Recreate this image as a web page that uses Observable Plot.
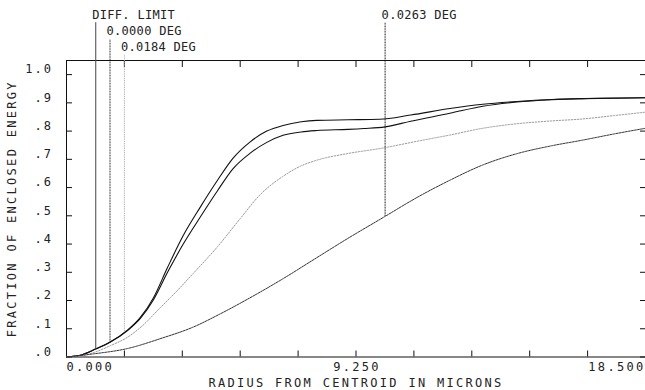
<!DOCTYPE html>
<html>
<head>
<meta charset="utf-8">
<script src="https://cdn.jsdelivr.net/npm/d3@7"></script>
<script src="https://cdn.jsdelivr.net/npm/@observablehq/plot@0.6"></script>
<style>
  body { margin: 0; background: #fff; }
  svg { font-family: "DejaVu Sans Mono", monospace; }
</style>
</head>
<body>
<div id="chart"></div>
<script>
// ---- data ----
const diffX = [0, 0.5, 0.93, 1.4, 1.95, 2.36, 2.78, 3.22, 3.73, 4.27, 4.82, 5.33, 5.87, 6.4, 6.92, 7.5, 8.0, 9.0, 10.0, 11.0, 12.25, 13.3, 14.39, 15.5, 16.5, 18.5];
const diffY = [0, 0.008, 0.028, 0.053, 0.095, 0.14, 0.21, 0.315, 0.43, 0.53, 0.625, 0.705, 0.762, 0.80, 0.82, 0.833, 0.838, 0.84, 0.842, 0.857, 0.88, 0.895, 0.905, 0.912, 0.915, 0.918];

const deg0X = [0, 0.5, 0.93, 1.4, 1.95, 2.36, 2.78, 3.22, 3.73, 4.27, 4.82, 5.33, 5.87, 6.4, 6.92, 7.5, 8.0, 9.0, 9.5, 10.18, 11.0, 12.25, 13.3, 14.39, 15.5, 16.5, 18.5];
const deg0Y = [0, 0.008, 0.028, 0.053, 0.094, 0.137, 0.203, 0.298, 0.40, 0.495, 0.588, 0.668, 0.722, 0.76, 0.785, 0.797, 0.802, 0.806, 0.809, 0.815, 0.835, 0.863, 0.888, 0.903, 0.911, 0.915, 0.918];

const deg184X = [0, 0.5, 0.93, 1.4, 1.95, 2.4, 3.0, 3.32, 4.05, 4.82, 5.55, 6.19, 6.92, 7.5, 8.0, 8.96, 10.11, 11.2, 12.25, 13.3, 14.39, 15.5, 16.49, 17.5, 18.5];
const deg184Y = [0, 0.005, 0.018, 0.04, 0.07, 0.108, 0.175, 0.21, 0.296, 0.39, 0.49, 0.575, 0.64, 0.677, 0.697, 0.72, 0.74, 0.764, 0.786, 0.81, 0.826, 0.836, 0.843, 0.855, 0.867];

const deg263X = [0, 0.86, 1.95, 3.0, 4.05, 4.9, 5.87, 6.9, 7.9, 8.96, 10.18, 11.2, 12.25, 13.3, 14.39, 15.5, 16.49, 17.5, 18.5];
const deg263Y = [0, 0.011, 0.03, 0.065, 0.106, 0.152, 0.21, 0.276, 0.345, 0.418, 0.498, 0.565, 0.626, 0.68, 0.72, 0.748, 0.768, 0.79, 0.81];

const markerLabels = ["DIFF. LIMIT", "0.0000 DEG", "0.0184 DEG", "0.0263 DEG"];
const markerX = [0.935, 1.39, 1.85, 10.18];
const markerBottom = [0.028, 0.053, 0.09, 0.498];
const markerTop = [1.184, 1.124, 1.068, 1.184];

const xTicks = [0, 1.85, 3.7, 5.55, 7.4, 9.25, 11.1, 12.95, 14.8, 16.65, 18.5];
const xLabelValues = [0, 9.25, 18.5];
const xLabelText = ["0.000", "9.250", "18.500"];
const yTicks = [0, 0.1, 0.2, 0.3, 0.4, 0.5, 0.6, 0.7, 0.8, 0.9, 1.0];
const yTickText = [".0", ".1", ".2", ".3", ".4", ".5", ".6", ".7", ".8", ".9", "1.0"];
const xTitle = "RADIUS FROM CENTROID IN MICRONS";
const yTitle = "FRACTION OF ENCLOSED ENERGY";
const xMax = 18.5;
const yTop = 1.05;

// ---- build tables ----
const toRows = (xs, ys) => xs.map((x, i) => ({x, y: ys[i]}));
const seriesStyles = [
  {rows: toRows(diffX, diffY), stroke: "#111", dash: null, w: 1.1},
  {rows: toRows(deg0X, deg0Y), stroke: "#111", dash: null, w: 1.1},
  {rows: toRows(deg184X, deg184Y), stroke: "#999", dash: "1.5,1.5", w: 1},
  {rows: toRows(deg263X, deg263Y), stroke: "#333", dash: "2,1", w: 1}
];
const markers = markerLabels.map((label, i) => ({label, x: markerX[i], y1: markerBottom[i], y2: markerTop[i]}));
const markerStyles = [
  {stroke: "#444", dash: null},
  {stroke: "#222", dash: "1,0.6"},
  {stroke: "#aaa", dash: "1,0.8"},
  {stroke: "#111", dash: "1,0.6"}
];
const xAnchors = ["start", "middle", "end"];
const xDx = [0, 1, 0];

const marks = [
  Plot.ruleY([0, yTop], {stroke: "#111", strokeWidth: 1}),
  Plot.ruleX([0], {stroke: "#111", strokeWidth: 1}),
  Plot.axisX({anchor: "bottom", ticks: xTicks, tickSize: -6, tickFormat: () => "", label: null}),
  Plot.axisX({anchor: "top", ticks: xTicks, tickSize: -6, tickFormat: () => "", label: null}),
  Plot.axisY({anchor: "left", ticks: yTicks, tickSize: -6, tickFormat: () => "", label: null}),
  Plot.axisY({anchor: "right", ticks: yTicks, tickSize: -6, tickFormat: () => "", label: null}),
  ...seriesStyles.map(s => Plot.line(s.rows, {x: "x", y: "y", curve: "monotone-x", stroke: s.stroke, strokeWidth: s.w, strokeDasharray: s.dash})),
  ...markers.map((m, i) => Plot.ruleX([m], {x: "x", y1: "y1", y2: "y2", stroke: markerStyles[i].stroke, strokeWidth: 1, strokeDasharray: markerStyles[i].dash})),
  Plot.text(markers, {x: "x", y: "y2", text: "label", textAnchor: "start", lineAnchor: "middle", dx: -3.5, dy: -8, fontSize: 12, fill: "#222"}),
  ...xLabelValues.map((v, i) => Plot.text([v], {x: d => d, frameAnchor: "bottom", text: () => xLabelText[i], textAnchor: xAnchors[i], lineAnchor: "middle", dx: xDx[i], dy: 10.5, fontSize: 12, fill: "#222"})),
  Plot.text(yTicks, {y: d => d, frameAnchor: "left", text: (d, i) => yTickText[i], textAnchor: "end", lineAnchor: "middle", dx: -13.5, dy: -5, fontSize: 12, fill: "#222"}),
  Plot.text([xTitle], {frameAnchor: "bottom", text: d => d, textAnchor: "middle", lineAnchor: "middle", dy: 26, fontSize: 12, fill: "#222"}),
  Plot.text([yTitle], {frameAnchor: "left", text: d => d, rotate: -90, textAnchor: "middle", lineAnchor: "middle", dx: -54, fontSize: 12, fill: "#222"})
];

const chart = Plot.plot({
  width: 645,
  height: 390,
  marginLeft: 66,
  marginRight: 0,
  marginTop: 60,
  marginBottom: 33.5,
  style: {fontFamily: "DejaVu Sans Mono", fontSize: "12px", color: "#111", background: "#fff", overflow: "visible"},
  x: {domain: [0, xMax]},
  y: {domain: [0, yTop]},
  marks
});

// letter spacing of the plotter-style lettering
chart.querySelectorAll("text").forEach(t => {
  const s = t.textContent;
  if (!s) return;
  let ls = 2.3;
  if (markerLabels.includes(s)) ls = 0.3;
  else if (yTickText.includes(s)) ls = 2.0;
  t.style.letterSpacing = ls + "px";
});
document.getElementById("chart").appendChild(chart);
</script>
</body>
</html>
